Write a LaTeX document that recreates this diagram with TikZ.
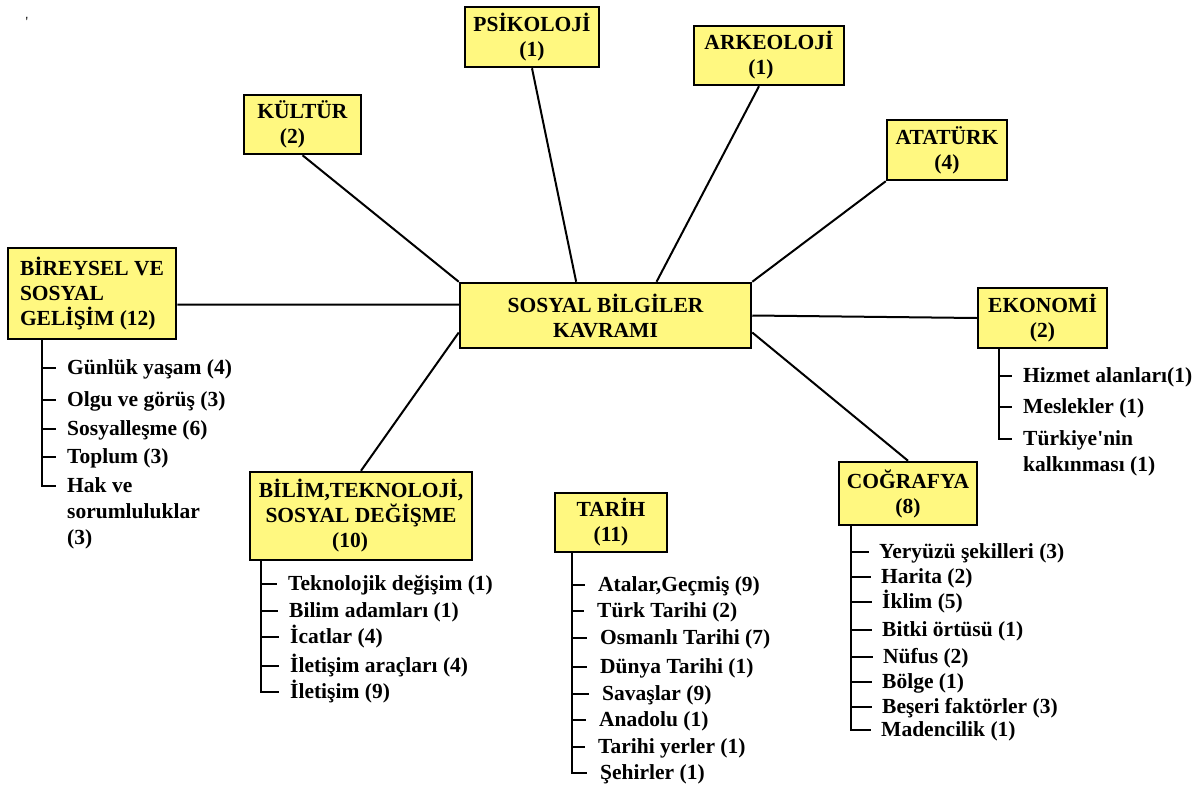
\documentclass[tikz,border=0pt]{standalone}
\usepackage{fontspec}
\setmainfont{Liberation Serif}
\usepackage{tikz}
\usetikzlibrary{positioning, calc}

\tikzset{
    kavram/.style={draw, line width=2.5pt, fill=yellow!50, inner sep=0pt, align=center, font=\bfseries\fontsize{21.5}{25}\selectfont},
    madde/.style={anchor=base west, inner sep=0pt, font=\bfseries\fontsize{21.5}{26}\selectfont},
    kol/.style={line width=2pt},
}

\begin{document}
\begin{tikzpicture}[x=1pt, y=-1pt]
                        \useasboundingbox (0, 0) rectangle (1203, 790);
                        \node[font=\fontsize{14}{14}\selectfont] (isaret) at (27, 22) {\textquotesingle};
                        % ana kutular
                        \node[kavram, minimum width=291, minimum height=65] (merkez) at (605.5, 315.5) {SOSYAL BİLGİLER\\KAVRAMI};
                        \node[kavram, minimum width=134, minimum height=60] (psikoloji) at (532, 37) {PSİKOLOJİ\\(1)};
                        \node[kavram, minimum width=150, minimum height=59] (arkeoloji) at (769, 55.5) {ARKEOLOJİ\\(1)\hspace*{16pt}};
                        \node[kavram, minimum width=120, minimum height=60] (ataturk) at (947, 150) {ATATÜRK\\(4)};
                        \node[kavram, minimum width=117, minimum height=59] (kultur) at (302.5, 124.5) {KÜLTÜR\\(2)\hspace*{20pt}};
                        \node[kavram, minimum width=168, minimum height=91, align=left] (bireysel) at (92, 293.5) {BİREYSEL VE\\SOSYAL\\GELİŞİM (12)};
                        \node[kavram, minimum width=129, minimum height=60] (ekonomi) at (1042.5, 318) {EKONOMİ\\(2)};
                        \node[kavram, minimum width=138, minimum height=63] (cografya) at (908, 493.5) {COĞRAFYA\\(8)};
                        \node[kavram, minimum width=222, minimum height=88] (bilim) at (361, 516) {BİLİM,TEKNOLOJİ,\\SOSYAL DEĞİŞME\\(10)\hspace*{22pt}};
                        \node[kavram, minimum width=112, minimum height=59] (tarih) at (611, 522.5) {TARİH\\(11)};
                        \coordinate (bk) at ([yshift=-11pt]bireysel.east);
                        \draw[kol]
                        (kultur.south) -- (merkez.north west)
                        (psikoloji.south) -- ($(merkez.north west)!0.4!(merkez.north east)$)
                        ([xshift=-10pt]arkeoloji.south) -- ($(merkez.north west)!0.674!(merkez.north east)$)
                        (ataturk.south west) -- (merkez.north east)
                        (bk) -- (bk -| merkez.west)
                        (merkez.east) -- (ekonomi.west)
                        ([yshift=-17pt]merkez.east) -- (cografya.north)
                        ([yshift=-17pt]merkez.west) -- (bilim.north);
                        % alt basliklar
                        \path (bireysel.south) ++(-50, 0) coordinate (bt);
                        \node[madde] (b1) at (67, 374) {Günlük yaşam (4)};
                        \node[madde] (b2) at (67, 406) {Olgu ve görüş (3)};
                        \node[madde] (b3) at (67, 435) {Sosyalleşme (6)};
                        \node[madde] (b4) at (67, 463) {Toplum (3)};
                        \node[madde] (b5) at (67, 492) {\begin{tabular}[t]{@{}l@{}}Hak ve\\sorumluluklar\\(3)\end{tabular}};
                        \draw[kol]
                        (bt) |- ([xshift=-11pt, yshift=6pt]b1.base west)
                        (bt) |- ([xshift=-11pt, yshift=6pt]b2.base west)
                        (bt) |- ([xshift=-11pt, yshift=6pt]b3.base west)
                        (bt) |- ([xshift=-11pt, yshift=6pt]b4.base west)
                        (bt) |- ([xshift=-11pt, yshift=6pt]b5.base west);
                        \path (bilim.south) ++(-100, 0) coordinate (tt);
                        \node[madde] (t1) at (288, 590) {Teknolojik değişim (1)};
                        \node[madde] (t2) at (289, 617) {Bilim adamları (1)};
                        \node[madde] (t3) at (290, 643) {İcatlar (4)};
                        \node[madde] (t4) at (290, 672) {İletişim araçları (4)};
                        \node[madde] (t5) at (290, 698) {İletişim (9)};
                        \draw[kol]
                        (tt) |- ([xshift=-11pt, yshift=6pt]t1.base west)
                        (tt) |- ([xshift=-11pt, yshift=6pt]t2.base west)
                        (tt) |- ([xshift=-11pt, yshift=6pt]t3.base west)
                        (tt) |- ([xshift=-11pt, yshift=6pt]t4.base west)
                        (tt) |- ([xshift=-11pt, yshift=6pt]t5.base west);
                        \path (tarih.south) ++(-39, 0) coordinate (ht);
                        \node[madde] (h1) at (598, 591) {Atalar,Geçmiş (9)};
                        \node[madde] (h2) at (597, 617) {Türk Tarihi (2)};
                        \node[madde] (h3) at (600, 644) {Osmanlı Tarihi (7)};
                        \node[madde] (h4) at (600, 673) {Dünya Tarihi (1)};
                        \node[madde] (h5) at (602, 700) {Savaşlar (9)};
                        \node[madde] (h6) at (599, 726) {Anadolu (1)};
                        \node[madde] (h7) at (598, 753) {Tarihi yerler (1)};
                        \node[madde] (h8) at (600, 779) {Şehirler (1)};
                        \draw[kol]
                        (ht) |- ([xshift=-13pt, yshift=6pt]h1.base west)
                        (ht) |- ([xshift=-13pt, yshift=6pt]h2.base west)
                        (ht) |- ([xshift=-13pt, yshift=6pt]h3.base west)
                        (ht) |- ([xshift=-13pt, yshift=6pt]h4.base west)
                        (ht) |- ([xshift=-13pt, yshift=6pt]h5.base west)
                        (ht) |- ([xshift=-13pt, yshift=6pt]h6.base west)
                        (ht) |- ([xshift=-13pt, yshift=6pt]h7.base west)
                        (ht) |- ([xshift=-13pt, yshift=6pt]h8.base west);
                        \path (cografya.south) ++(-57, 0) coordinate (ct);
                        \node[madde] (c1) at (879, 558) {Yeryüzü şekilleri (3)};
                        \node[madde] (c2) at (881, 583) {Harita (2)};
                        \node[madde] (c3) at (882, 608) {İklim (5)};
                        \node[madde] (c4) at (882, 636) {Bitki örtüsü (1)};
                        \node[madde] (c5) at (883, 663) {Nüfus (2)};
                        \node[madde] (c6) at (882, 688) {Bölge (1)};
                        \node[madde] (c7) at (882, 713) {Beşeri faktörler (3)};
                        \node[madde] (c8) at (881, 736) {Madencilik (1)};
                        \draw[kol]
                        (ct) |- ([xshift=-10pt, yshift=6pt]c1.base west)
                        (ct) |- ([xshift=-10pt, yshift=6pt]c2.base west)
                        (ct) |- ([xshift=-10pt, yshift=6pt]c3.base west)
                        (ct) |- ([xshift=-10pt, yshift=6pt]c4.base west)
                        (ct) |- ([xshift=-10pt, yshift=6pt]c5.base west)
                        (ct) |- ([xshift=-10pt, yshift=6pt]c6.base west)
                        (ct) |- ([xshift=-10pt, yshift=6pt]c7.base west)
                        (ct) |- ([xshift=-10pt, yshift=6pt]c8.base west);
                        \path (ekonomi.south) ++(-43.5, 0) coordinate (et);
                        \node[madde] (e1) at (1023, 382) {Hizmet alanları(1)};
                        \node[madde] (e2) at (1023, 413) {Meslekler (1)};
                        \node[madde] (e3) at (1023, 445) {\begin{tabular}[t]{@{}l@{}}Türkiye\textquotesingle nin\\kalkınması (1)\end{tabular}};
                        \draw[kol]
                        (et) |- ([xshift=-11pt, yshift=6pt]e1.base west)
                        (et) |- ([xshift=-11pt, yshift=6pt]e2.base west)
                        (et) |- ([xshift=-11pt, yshift=6pt]e3.base west);
                    \end{tikzpicture}
\end{document}
